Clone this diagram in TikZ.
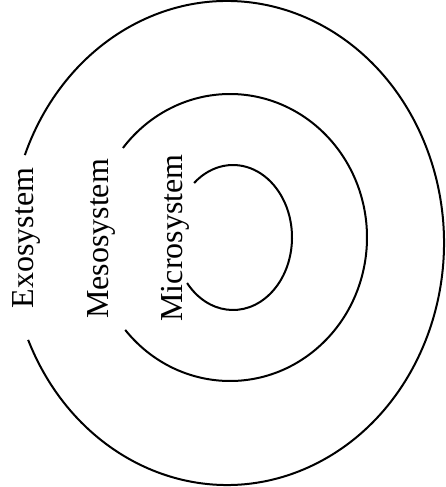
\documentclass[tikz,border=0pt]{standalone}
\usepackage{fontspec}
\setmainfont{Liberation Serif}
\begin{document}
\begin{tikzpicture}[x=1pt,y=1pt,
  ring/.style={line width=2pt, black},
  lbl/.style={rotate=90, inner sep=0pt, font=\fontsize{32}{38}\selectfont}]
\useasboundingbox (0,0) rectangle (445,487);
\coordinate (co) at (227,244);
\coordinate (cm) at (230,249.5);
\coordinate (ci) at (233,249.5);
\draw[ring] ([shift={(203.6:217pt and 242pt)}]co) arc[start angle=203.6, end angle=518.7, x radius=217pt, y radius=242pt];
\draw[ring] ([shift={(220.1:137pt and 143.5pt)}]cm) arc[start angle=220.1, end angle=501.4, x radius=137pt, y radius=143.5pt];
\draw[ring] ([shift={(218.9:59pt and 72.5pt)}]ci) arc[start angle=218.9, end angle=491.3, x radius=59pt, y radius=72.5pt];
\node[lbl] (exo) at (26,249) {Exosystem};
\node[lbl] (meso) at (101,248) {Mesosystem};
\node[lbl] (micro) at (175,249) {Microsystem};
\end{tikzpicture}
\end{document}
